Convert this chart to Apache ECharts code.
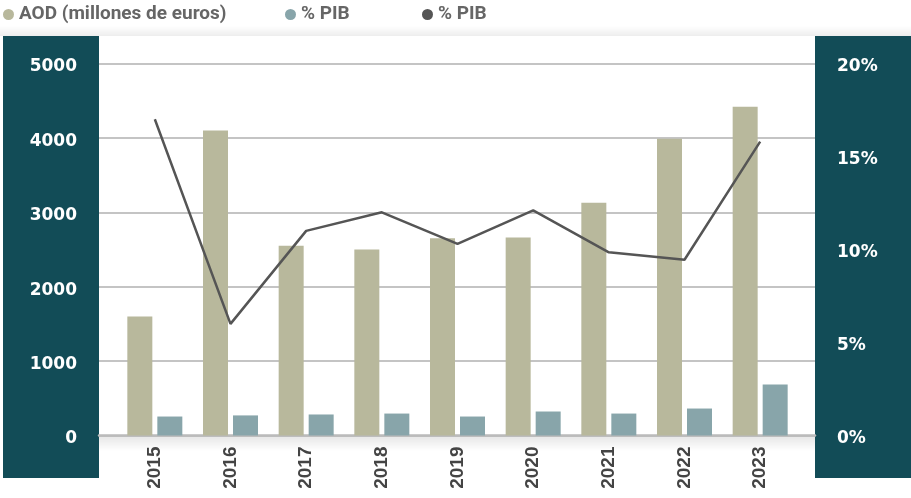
<!DOCTYPE html>
<html lang="es">
<head>
<meta charset="UTF-8">
<title>AOD</title>
<style>
  * { margin: 0; padding: 0; }
  body { background: #fff; }
  #chart { width: 911px; height: 498px; }
</style>
</head>
<body>
<div id="chart"></div>
<script src="https://cdn.jsdelivr.net/npm/echarts@6/dist/echarts.min.js"></script>
<script>
  // datos
  const years = ['2015', '2016', '2017', '2018', '2019', '2020', '2021', '2022', '2023'];
  const aod = [1600, 4100, 2550, 2500, 2650, 2660, 3130, 3990, 4420];
  const pibBar = [1.02, 1.08, 1.13, 1.18, 1.02, 1.29, 1.18, 1.45, 2.74];
  const pibLine = [17.0, 6.0, 11.0, 12.0, 10.3, 12.1, 9.85, 9.45, 15.8];
  const leftTicks = ['0', '1000', '2000', '3000', '4000', '5000'];
  const rightTicks = ['0%', '5%', '10%', '15%', '20%'];

  const names = ['AOD (millones de euros)', '% PIB', '% PIB '];
  const beige = '#b8b89c', teal = '#88a5aa', dark = '#555555', panel = '#124c57';

  const chart = echarts.init(document.getElementById('chart'));

  const legendBase = {
    top: 5, padding: 0, icon: 'circle', itemWidth: 11, itemHeight: 11,
    textStyle: { color: '#666666', fontWeight: 'bold', fontSize: 19, fontFamily: 'Roboto' },
    formatter: n => n.trim(), selectedMode: false
  };

  // etiquetas un poco por debajo de la línea de la cuadrícula
  const tick = { color: '#fff', fontWeight: 'bold', fontSize: 17, fontFamily: 'DejaVu Sans', padding: [7, 0, 0, 0] };

  chart.setOption({
    animation: false,
    legend: [
      Object.assign({}, legendBase, { left: 3, data: [names[0]] }),
      Object.assign({}, legendBase, { left: 285, data: [names[1]] }),
      Object.assign({}, legendBase, { left: 422, data: [names[2]] })
    ],
    graphic: [
      { type: 'rect', z: -5, shape: { x: 0, y: 26, width: 911, height: 10 },
        style: { fill: new echarts.graphic.LinearGradient(0, 0, 0, 1, [
          { offset: 0, color: 'rgba(0,0,0,0)' }, { offset: 1, color: 'rgba(0,0,0,0.07)' }]) } },
      { type: 'rect', z: -5, shape: { x: 99, y: 437, width: 716, height: 14 },
        style: { fill: new echarts.graphic.LinearGradient(0, 0, 0, 1, [
          { offset: 0, color: 'rgba(0,0,0,0.09)' }, { offset: 1, color: 'rgba(0,0,0,0)' }]) } },
      { type: 'rect', z: -4, shape: { x: 3, y: 36, width: 96, height: 442 }, style: { fill: panel } },
      { type: 'rect', z: -4, shape: { x: 815, y: 36, width: 96, height: 442 }, style: { fill: panel } }
    ],
    grid: [
      { left: 99, right: 96, top: 63.5, bottom: 62.5 },
      { left: 117, right: 113, top: 63.5, bottom: 62.5 }
    ],
    xAxis: [
      { gridIndex: 0, type: 'category', data: years, axisTick: { show: false },
        axisLabel: { show: false }, axisLine: { lineStyle: { color: '#bbbbbb', width: 2.5 } } },
      { gridIndex: 1, type: 'category', data: years, axisTick: { show: false },
        axisLine: { show: false },
        axisLabel: { rotate: 90, margin: 11, color: '#444', fontWeight: 'bold', fontSize: 19,
          fontFamily: 'Liberation Sans' } }
    ],
    yAxis: [
      { gridIndex: 0, type: 'value', min: 0, max: 5000, interval: 1000, position: 'left',
        axisLabel: { margin: 22, formatter: v => '{t|' + leftTicks[v / 1000] + '}', rich: { t: tick } },
        splitLine: { lineStyle: { color: '#b0b0b0', width: 1.5 } } },
      { gridIndex: 0, type: 'value', min: 0, max: 20, interval: 5, position: 'right',
        axisLabel: { margin: 22, formatter: v => '{t|' + rightTicks[v / 5] + '}', rich: { t: tick } },
        splitLine: { show: false } },
      { gridIndex: 1, type: 'value', min: 0, max: 5000, show: false },
      { gridIndex: 1, type: 'value', min: 0, max: 20, show: false }
    ],
    series: [
      { name: names[0], type: 'bar', xAxisIndex: 1, yAxisIndex: 2, data: aod,
        barWidth: 25, barGap: '20%', itemStyle: { color: beige } },
      { name: names[1], type: 'bar', xAxisIndex: 1, yAxisIndex: 3, data: pibBar,
        barWidth: 25, barGap: '20%', itemStyle: { color: teal } },
      { name: names[2], type: 'line', xAxisIndex: 1, yAxisIndex: 3, data: pibLine,
        showSymbol: false, symbol: 'none', itemStyle: { color: dark },
        lineStyle: { color: dark, width: 2.5 }, z: 5 }
    ]
  });
</script>
</body>
</html>
